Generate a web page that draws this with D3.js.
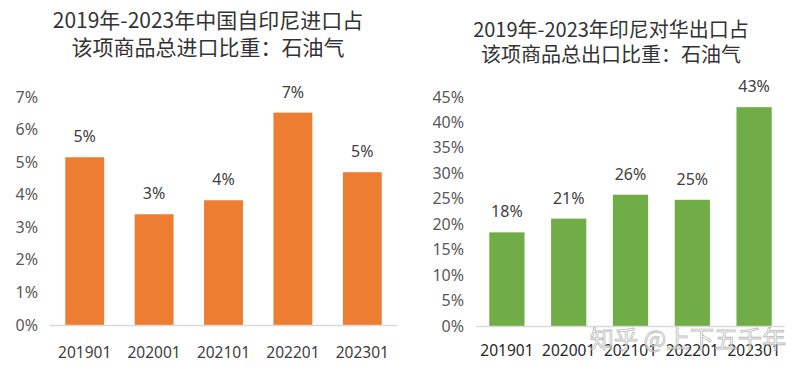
<!DOCTYPE html>
<html>
<head>
<meta charset="utf-8">
<script src="https://cdn.jsdelivr.net/npm/d3@7/dist/d3.min.js"></script>
<style>
    body { margin: 0; background: #fff; }
    svg { display: block; }
    .title { font-family: "Noto Sans CJK SC", sans-serif; fill: #333; }
    .tick-label, .cat-label, .value-label { font-family: "Noto Sans", "Open Sans", sans-serif; }
</style>
</head>
<body>
<script>
var categories = ['201901', '202001', '202101', '202201', '202301'];
var importShare = [5.15, 3.4, 3.83, 6.52, 4.69];
var exportShare = [18.4, 21.1, 25.8, 24.8, 43.0];
var importTicks = [0, 1, 2, 3, 4, 5, 6, 7];
var exportTicks = [0, 5, 10, 15, 20, 25, 30, 35, 40, 45];
var importTitle = ['2019年-2023年中国自印尼进口占', '该项商品总进口比重：石油气'];
var exportTitle = ['2019年-2023年印尼对华出口占', '该项商品总出口比重：石油气'];

var svg = d3.select('body').append('svg').attr('width', 807).attr('height', 374);

function drawPanel(cfg) {
    var g = svg.append('g');
    var x = d3.scaleBand().domain(categories).range([cfg.x0, cfg.x1])
        .paddingInner(cfg.pad).paddingOuter(cfg.pad / 2);
    var y = d3.scaleLinear().domain([0, cfg.max]).range([cfg.base, cfg.top]);

    g.selectAll('.title').data(cfg.title).enter().append('text').classed('title', true)
        .attr('x', cfg.titleX).attr('y', function (d, i) { return cfg.titleY + i * cfg.titleGap; })
        .attr('text-anchor', 'middle').attr('font-size', cfg.titleSize)
        .attr('fill', function (d, i) { return i === 0 ? '#262626' : '#4a4a4a'; })
        .text(function (d) { return d; });

    g.selectAll('.tick-label').data(cfg.ticks).enter().append('text').classed('tick-label', true)
        .attr('x', cfg.tickX).attr('y', function (d) { return y(d); }).attr('dy', '0.35em')
        .attr('text-anchor', 'end').attr('font-size', 16).attr('fill', '#595959')
        .text(function (d) { return d + '%'; });

    g.selectAll('.bar').data(cfg.values).enter().append('rect').classed('bar', true)
        .attr('x', function (d, i) { return x(categories[i]); })
        .attr('y', function (d) { return y(d); })
        .attr('width', x.bandwidth())
        .attr('height', function (d) { return y(0) - y(d); })
        .attr('fill', cfg.color);

    g.append('line').attr('x1', cfg.x0).attr('x2', cfg.x1)
        .attr('y1', y(0) + 0.5).attr('y2', y(0) + 0.5)
        .attr('stroke', '#d9d9d9').attr('stroke-width', 1.5);

    g.selectAll('.value-label').data(cfg.values).enter().append('text').classed('value-label', true)
        .attr('x', function (d, i) { return x(categories[i]) + x.bandwidth() / 2; })
        .attr('y', function (d) { return y(d) - 15; })
        .attr('text-anchor', 'middle').attr('font-size', 16).attr('fill', '#404040')
        .text(function (d) { return d3.format('.0f')(d) + '%'; });

    g.selectAll('.cat-label').data(categories).enter().append('text').classed('cat-label', true)
        .attr('x', function (d) { return x(d) + x.bandwidth() / 2; })
        .attr('y', cfg.catY)
        .attr('text-anchor', 'middle').attr('font-size', 15.5).attr('fill', cfg.catColor)
        .text(function (d) { return d; });
    return g;
}

drawPanel({
    title: importTitle, titleX: 208, titleY: 28, titleGap: 27, titleSize: 21,
    x0: 50, x1: 397, pad: 0.44, base: 325, top: 97, max: 7,
    ticks: importTicks, tickX: 38, values: importShare, color: '#ed7d31',
    catY: 358, catColor: '#404040'
});

drawPanel({
    title: exportTitle, titleX: 611, titleY: 37, titleGap: 25, titleSize: 20,
    x0: 476, x1: 785, pad: 0.43, base: 326, top: 97, max: 45,
    ticks: exportTicks, tickX: 464, values: exportShare, color: '#70ad47',
    catY: 356, catColor: '#262626'
});

// watermark (sits over the right axis labels, as in the source image)
svg.append('text').attr('x', 590).attr('y', 348)
    .attr('font-family', '"Noto Sans CJK SC", sans-serif').attr('font-size', 24)
    .attr('fill', '#fff').attr('fill-opacity', 0.6)
    .attr('stroke', '#9a9a9a').attr('stroke-width', 0.8).attr('stroke-opacity', 0.7)
    .text('知乎 @上下五千年');
</script>
</body>
</html>
